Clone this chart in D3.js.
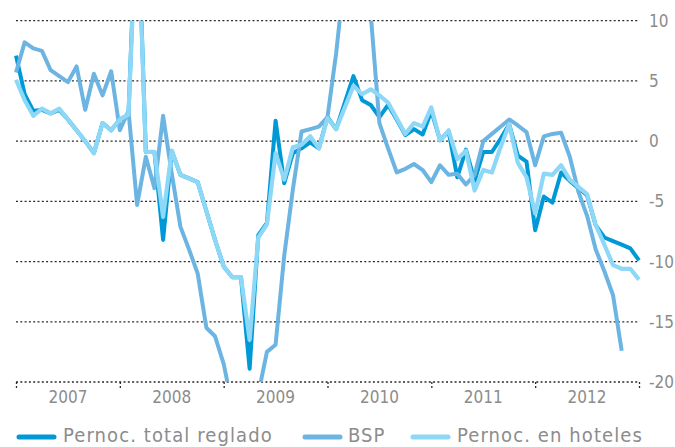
<!DOCTYPE html>
<html>
<head>
<meta charset="utf-8">
<script src="https://cdn.jsdelivr.net/npm/d3@7"></script>
<style>
  html, body { margin: 0; padding: 0; background: #fff; }
  svg { display: block; }
  text { font-family: "DejaVu Sans Condensed", "Liberation Sans Narrow", "DejaVu Sans", sans-serif; }
</style>
</head>
<body>
<svg id="chart"></svg>
<script>
// monthly points, Jan 2007 = 0
const years = ["2007", "2008", "2009", "2010", "2011", "2012"]
const yTicks = [10, 5, 0, -5, -10, -15, -20]

const reglado = [
  7.1, 3.9, 2.5, 2.6, 2.3, 2.6, 1.8, 0.9, 0.0, -1.0, 1.5, 0.9,
  1.8, 2.2, 21, -0.9, -0.9, -8.2, -0.8, -2.8, -3.1, -3.4, -5.8, -8.2,
  -10.4, -11.3, -11.3, -18.9, -7.8, -6.8, 1.7, -3.5, -1.0, -0.6, -0.1, -0.6,
  2.0, 1.0, 3.2, 5.4, 3.4, 3.0, 2.0, 3.0, 1.8, 0.5, 1.0, 0.55,
  2.5, 0.1, 0.8, -3.0, -0.7, -3.3, -0.9, -0.9, 0.2, 1.4, -1.2, -1.7,
  -7.4, -4.6, -5.1, -2.6, -3.3, -3.9, -4.5, -7.0, -8.0, -8.3, -8.6, -8.9,
  -9.9
]
const bsp = [
  5.7, 8.2, 7.7, 7.5, 5.9, 5.4, 4.9, 6.2, 2.6, 5.6, 3.8, 5.8,
  0.9, 2.5, -5.3, -1.3, -3.9, 2.1, -2.7, -7.1, -9.0, -11.0, -15.5, -16.2,
  -18.5, -22, -24, -23, -21, -17.5, -16.9, -9.5, -4.0, 0.8, 1.0, 1.2,
  2.0, 7.3, 14, 16, 14, 10.5, 1.5, -0.6, -2.6, -2.3, -1.9, -2.4,
  -3.4, -2.0, -2.8, -2.7, -3.6, -2.8, 0.0, 0.6, 1.2, 1.8, 1.3, 0.75,
  -2.0, 0.4, 0.6, 0.7, -1.3, -4.2, -6.2, -9.0, -10.8, -12.8, -17.4
]
const hoteles = [
  5.1, 3.4, 2.1, 2.7, 2.3, 2.7, 1.8, 0.9, 0.0, -1.0, 1.5, 0.9,
  1.8, 2.2, 20, -0.9, -0.9, -6.3, -0.8, -2.8, -3.1, -3.4, -5.8, -8.2,
  -10.4, -11.3, -11.3, -16.5, -8.0, -6.9, -1.0, -3.2, -0.5, -0.3, 0.4, -0.6,
  1.9, 1.0, 2.8, 4.6, 3.9, 4.3, 3.8, 3.2, 1.9, 0.6, 1.5, 1.2,
  2.8, 0.05, 0.9, -1.5, -0.8, -4.1, -2.4, -2.6, -0.5, 1.4, -1.8, -3.0,
  -6.0, -2.7, -2.8, -2.0, -3.2, -3.8, -4.4, -7.0, -8.6, -10.3, -10.6, -10.6,
  -11.5
]

const series = [
  { name: "Pernoc. total reglado", values: reglado, color: "#0099d8", width: 4 },
  { name: "BSP", values: bsp, color: "#6cb5e3", width: 4 },
  { name: "Pernoc. en hoteles", values: hoteles, color: "#8ed8f7", width: 4.2 }
]

const full_width = 675
const full_height = 447

const svg = d3.select("#chart")
  .attr("width", full_width)
  .attr("height", full_height)

const x = d3.scaleLinear().domain([0, 72]).range([16, 639])
const y = d3.scaleLinear().domain([-20, 10]).range([382, 20.7])

// dotted gridlines
svg.append("g")
  .selectAll("line")
  .data(yTicks)
  .enter()
  .append("line")
  .attr("x1", x(0))
  .attr("x2", x(72))
  .attr("y1", d => y(d))
  .attr("y2", d => y(d))
  .attr("stroke", "#2a2a2a")
  .attr("stroke-width", 1.3)
  .attr("stroke-dasharray", "2,2.3")

// right axis labels
const yaxis = d3.axisRight(y).tickValues(yTicks).tickSize(0).tickPadding(0)
  .tickFormat(d => d3.format("d")(d).replace("\u2212", "-"))
svg.append("g")
  .attr("transform", "translate(649,0)")
  .call(yaxis)
  .call(g => g.select(".domain").remove())
  .selectAll("text")
  .attr("fill", "#8c8c8c")
  .attr("font-size", "17px")
  .attr("font-family", null)

// bottom ticks at year starts
const xaxis = d3.axisBottom(x).tickValues(d3.range(0, 73, 12)).tickSize(7).tickFormat("")
svg.append("g")
  .attr("transform", `translate(0, ${y(-20)})`)
  .call(xaxis)
  .call(g => g.select(".domain").remove())
  .selectAll("line")
  .attr("stroke", "#2a2a2a")
  .attr("stroke-width", 1.3)
  .attr("stroke-dasharray", "2,2")

// year labels centered in each year
svg.append("g")
  .selectAll("text")
  .data(years)
  .enter()
  .append("text")
  .attr("x", (d, i) => x(i * 12 + 6))
  .attr("y", 403)
  .attr("text-anchor", "middle")
  .attr("fill", "#8c8c8c")
  .attr("font-size", "17px")
  .text(d => d)

// clip lines to plot range
svg.append("defs").append("clipPath").attr("id", "plot-clip")
  .append("rect")
  .attr("x", 0)
  .attr("y", y(10))
  .attr("width", full_width)
  .attr("height", y(-20) - y(10))

const line = d3.line()
  .x((d, i) => x(i))
  .y(d => y(d))

svg.append("g")
  .attr("clip-path", "url(#plot-clip)")
  .selectAll("path")
  .data(series)
  .enter()
  .append("path")
  .attr("d", d => line(d.values))
  .attr("fill", "none")
  .attr("stroke", d => d.color)
  .attr("stroke-width", d => d.width)
  .attr("stroke-linejoin", "round")

// legend
const legend_items = [
  { sx: 17, tx: 63 },
  { sx: 303, tx: 348 },
  { sx: 411, tx: 457 }
]
const legend = svg.append("g")
series.forEach((s, i) => {
  const pos = legend_items[i]
  legend.append("line")
    .attr("x1", pos.sx + 2)
    .attr("x2", pos.sx + 37)
    .attr("y1", 437)
    .attr("y2", 437)
    .attr("stroke", s.color)
    .attr("stroke-width", 5)
    .attr("stroke-linecap", "round")
  legend.append("text")
    .attr("x", pos.tx)
    .attr("y", 442)
    .attr("fill", "#8c8c8c")
    .attr("font-size", "20px")
    .attr("letter-spacing", "1.1px")
    .text(s.name)
})
</script>
</body>
</html>
